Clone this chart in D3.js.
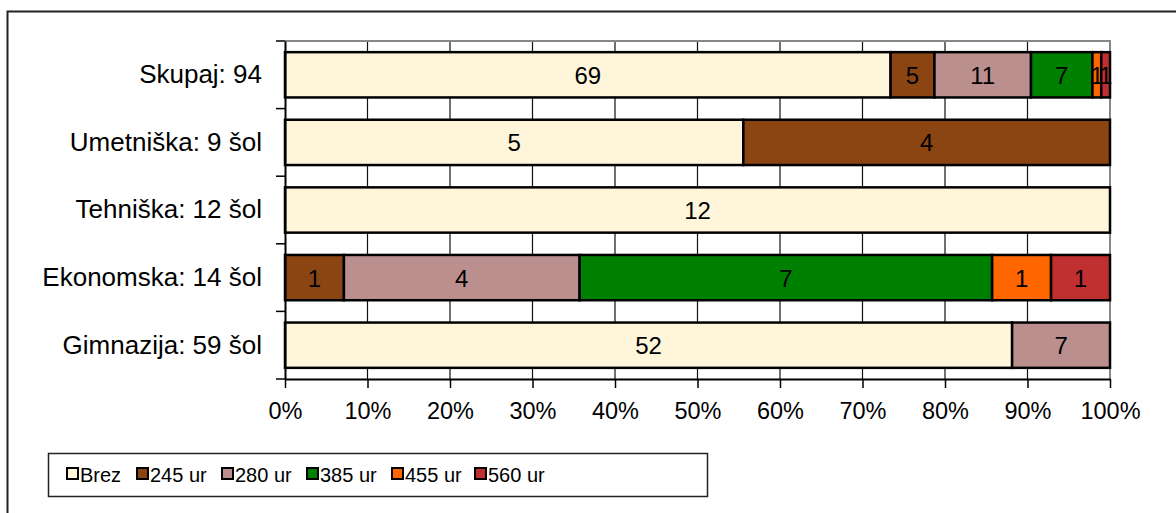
<!DOCTYPE html>
<html>
<head>
<meta charset="utf-8">
<script src="https://d3js.org/d3.v7.min.js"></script>
<style>
  body { margin: 0; background: #fff; }
  svg { display: block; font-family: "Liberation Sans", Arial, sans-serif; }
</style>
</head>
<body>
<svg id="vis"></svg>
<script>
  // data
  var categories = ["Skupaj: 94", "Umetniška: 9 šol", "Tehniška: 12 šol", "Ekonomska: 14 šol", "Gimnazija: 59 šol"];
  var seriesNames = ["Brez", "245 ur", "280 ur", "385 ur", "455 ur", "560 ur"];
  var brez   = [69, 5, 12, 0, 52];
  var ur245  = [5, 4, 0, 1, 0];
  var ur280  = [11, 0, 0, 4, 7];
  var ur385  = [7, 0, 0, 7, 0];
  var ur455  = [1, 0, 0, 1, 0];
  var ur560  = [1, 0, 0, 1, 0];
  var ticks = [0, 0.1, 0.2, 0.3, 0.4, 0.5, 0.6, 0.7, 0.8, 0.9, 1];
  var colors = ["#FFF5DA", "#8B4513", "#BC8F8F", "#008000", "#FF6600", "#C03030"];

  var seriesValues = [brez, ur245, ur280, ur385, ur455, ur560];
  var rows = categories.map(function(c, i) {
    var r = { cat: c };
    seriesNames.forEach(function(s, j) { r[s] = seriesValues[j][i]; });
    return r;
  });

  var svg = d3.select("#vis").attr("width", 1176).attr("height", 513);

  // outer frame
  svg.append("rect")
      .attr("x", 7.5).attr("y", 11.5)
      .attr("width", 1200).attr("height", 600)
      .attr("fill", "none").attr("stroke", "#222").attr("stroke-width", 2);

  var x = d3.scaleLinear().domain([0, 1]).range([285, 1110]);
  var y = d3.scaleBand().domain(categories).range([41, 379]).paddingInner(0.33).paddingOuter(0.165);

  var stack = d3.stack().keys(seriesNames).offset(d3.stackOffsetExpand);
  var layers = stack(rows);

  // gridlines
  svg.append("g").selectAll("line")
      .data(ticks.slice(1, -1))
      .enter().append("line")
      .attr("x1", function(d) { return x(d); })
      .attr("x2", function(d) { return x(d); })
      .attr("y1", 41).attr("y2", 379)
      .attr("stroke", "#111").attr("stroke-width", 1.2);

  // plot area border top/right
  svg.append("path")
      .attr("d", "M285,41H1110V379")
      .attr("fill", "none").attr("stroke", "#888").attr("stroke-width", 2);

  // bars
  var g = svg.append("g").selectAll("g")
      .data(layers)
      .enter().append("g")
      .attr("fill", function(d, i) { return colors[i]; });

  g.selectAll("rect")
      .data(function(d) { return d; })
      .enter().filter(function(d) { return d[1] > d[0]; })
      .append("rect")
      .attr("x", function(d) { return x(d[0]); })
      .attr("y", function(d) { return y(d.data.cat); })
      .attr("width", function(d) { return x(d[1]) - x(d[0]); })
      .attr("height", y.bandwidth())
      .attr("stroke", "#000").attr("stroke-width", 2.5);

  // value labels
  layers.forEach(function(layer) {
    svg.append("g").selectAll("text")
        .data(layer.filter(function(d) { return d[1] > d[0]; }))
        .enter().append("text")
        .attr("x", function(d) { return (x(d[0]) + x(d[1])) / 2; })
        .attr("y", function(d) { return y(d.data.cat) + y.bandwidth() / 2 + 9; })
        .attr("text-anchor", "middle")
        .attr("font-size", 24)
        .attr("fill", "#000")
        .text(function(d) { return d.data[layer.key]; });
  });

  // x axis
  var xAxis = svg.append("g")
      .attr("transform", "translate(0,379)")
      .call(d3.axisBottom(x).tickValues(ticks).tickFormat(d3.format(".0%")).tickSize(9).tickSizeOuter(0));
  xAxis.select(".domain").attr("stroke", "#000").attr("stroke-width", 2);
  xAxis.selectAll(".tick line").attr("stroke", "#000").attr("stroke-width", 1.5);
  xAxis.selectAll("text").attr("font-size", 23.5).attr("fill", "#000")
      .attr("y", 40).attr("dy", 0)
      .attr("font-family", "Liberation Sans, Arial, sans-serif");

  // y axis
  var yAxis = svg.append("g")
      .attr("transform", "translate(285,0)")
      .call(d3.axisLeft(y).tickSize(0).tickPadding(23));
  yAxis.select(".domain").attr("stroke", "#000").attr("stroke-width", 2);
  yAxis.selectAll("text").attr("font-size", 26).attr("fill", "#000")
      .attr("font-family", "Liberation Sans, Arial, sans-serif");
  // y boundary ticks
  var yBounds = categories.map(function(c) { return y(c) - y.step() * y.paddingInner() / 2; }).concat([379]);
  svg.append("g").selectAll("line")
      .data(yBounds)
      .enter().append("line")
      .attr("x1", 276).attr("x2", 285)
      .attr("y1", function(d) { return d; }).attr("y2", function(d) { return d; })
      .attr("stroke", "#000").attr("stroke-width", 1.5);

  // legend
  var legend = svg.append("g");
  legend.append("rect")
      .attr("x", 48.5).attr("y", 453.5).attr("width", 659).attr("height", 43)
      .attr("fill", "#fff").attr("stroke", "#222").attr("stroke-width", 1.5);
  var legendX = [67, 137, 222, 307, 392, 475];
  var items = legend.selectAll("g.item")
      .data(seriesNames)
      .enter().append("g")
      .attr("transform", function(d, i) { return "translate(" + legendX[i] + ",468)"; });
  items.append("rect")
      .attr("width", 11).attr("height", 11)
      .attr("fill", function(d, i) { return colors[i]; })
      .attr("stroke", "#000").attr("stroke-width", 2);
  items.append("text")
      .attr("x", 13).attr("y", 14)
      .attr("font-size", 20).attr("fill", "#000")
      .text(function(d) { return d; });
</script>
</body>
</html>
